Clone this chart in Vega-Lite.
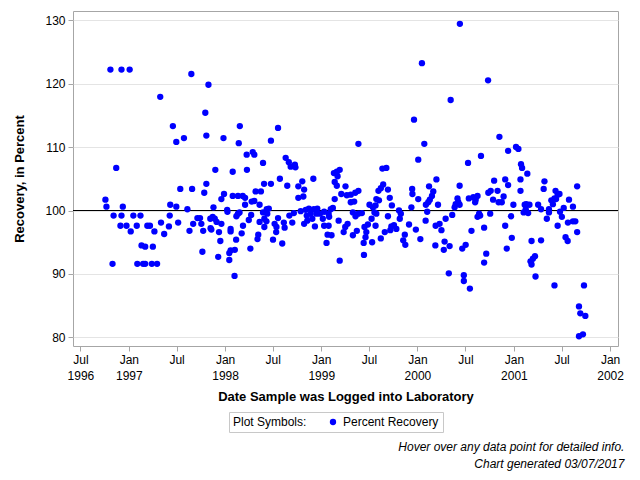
{
"$schema": "https://vega.github.io/schema/vega-lite/v6.json",
"width": 545, "height": 335,
"autosize": "none",
"padding": {"left": 73, "top": 11, "right": 22, "bottom": 134},
"background": "white",
"title": {"text": "Hover over any data point for detailed info.", "subtitle": "Chart generated 03/07/2017", "orient": "bottom", "anchor": "end", "font": "Liberation Sans", "fontSize": 12, "fontStyle": "italic", "fontWeight": "normal", "color": "#000000", "subtitleFont": "Liberation Sans", "subtitleFontSize": 12, "subtitleFontStyle": "italic", "subtitleColor": "#000000", "subtitlePadding": 5, "offset": 9, "dx": 1},
"data": {"values": [
{"date":"1996-10-04","recovery":101.7},{"date":"1996-10-08","recovery":100.6},{"date":"1996-10-23","recovery":122.2},{"date":"1996-10-31","recovery":91.6},{"date":"1996-11-04","recovery":99.2},{"date":"1996-11-14","recovery":106.7},{"date":"1996-11-30","recovery":97.6},{"date":"1996-12-04","recovery":122.2},{"date":"1996-12-04","recovery":99.2},{"date":"1996-12-09","recovery":100.6},{"date":"1996-12-23","recovery":97.6},{"date":"1997-01-04","recovery":122.2},{"date":"1997-01-08","recovery":96.7},{"date":"1997-01-18","recovery":99.2},{"date":"1997-01-31","recovery":97.6},{"date":"1997-02-02","recovery":91.6},{"date":"1997-02-14","recovery":99.2},{"date":"1997-02-18","recovery":94.5},{"date":"1997-02-24","recovery":91.6},{"date":"1997-03-04","recovery":91.6},{"date":"1997-03-04","recovery":94.3},{"date":"1997-03-12","recovery":97.6},{"date":"1997-03-22","recovery":97.6},{"date":"1997-03-29","recovery":91.6},{"date":"1997-04-02","recovery":94.3},{"date":"1997-04-08","recovery":96.7},{"date":"1997-04-18","recovery":91.6},{"date":"1997-04-30","recovery":117.9},{"date":"1997-05-03","recovery":98.1},{"date":"1997-05-15","recovery":96.3},
{"date":"1997-06-17","recovery":113.3},{"date":"1997-06-30","recovery":110.8},{"date":"1997-07-29","recovery":111.4},{"date":"1997-08-26","recovery":121.5},{"date":"1997-10-22","recovery":111.8},{"date":"1997-10-18","recovery":115.4},{"date":"1997-10-30","recovery":119.8},{"date":"1997-12-26","recovery":111.4},{"date":"1998-02-26","recovery":113.3},{"date":"1998-02-22","recovery":110.6},{"date":"1998-03-24","recovery":108.8},{"date":"1998-04-16","recovery":109.2},{"date":"1998-04-22","recovery":108.8},{"date":"1998-05-25","recovery":107.5},{"date":"1997-11-25","recovery":106.4},{"date":"1998-01-30","recovery":106.1},{"date":"1998-03-25","recovery":106.4},{"date":"1997-07-15","recovery":103.4},{"date":"1997-08-29","recovery":103.4},{"date":"1997-10-14","recovery":102.8},{"date":"1997-10-22","recovery":104.2},{"date":"1998-05-29","recovery":104.2},{"date":"1997-06-07","recovery":100.9},{"date":"1997-06-30","recovery":100.6},{"date":"1997-06-05","recovery":99.2},{"date":"1997-06-02","recovery":97.5},{"date":"1997-07-07","recovery":98.1},{"date":"1997-08-11","recovery":100.2},{"date":"1997-08-19","recovery":96.8},{"date":"1997-09-02","recovery":97.9},{"date":"1997-09-18","recovery":98.8},{"date":"1997-09-28","recovery":98.8},{"date":"1997-10-03","recovery":97.9},{"date":"1997-10-10","recovery":96.8},{"date":"1997-10-07","recovery":93.5},{"date":"1997-11-06","recovery":98.7},{"date":"1997-11-15","recovery":99.0},{"date":"1997-11-23","recovery":98.7},{"date":"1997-11-07","recovery":97.2},{"date":"1997-11-10","recovery":97.0},{"date":"1997-11-18","recovery":100.5},{"date":"1997-11-30","recovery":98.2},{"date":"1997-12-09","recovery":96.6},{"date":"1997-12-14","recovery":95.2},{"date":"1997-12-18","recovery":97.9},{"date":"1997-12-06","recovery":92.7},{"date":"1997-12-18","recovery":101.8},{"date":"1997-12-28","recovery":102.6},{"date":"1998-01-09","recovery":100.1},{"date":"1998-01-10","recovery":99.8},{"date":"1998-01-22","recovery":97.1},{"date":"1998-01-22","recovery":96.7},{"date":"1998-01-17","recovery":93.3},{"date":"1998-01-22","recovery":93.7},{"date":"1998-02-07","recovery":93.8},{"date":"1998-01-17","recovery":92.2},{"date":"1998-02-06","recovery":89.7},{"date":"1998-01-30","recovery":102.3},{"date":"1998-02-19","recovery":102.3},{"date":"1998-02-13","recovery":99.1},{"date":"1998-02-19","recovery":99.5},{"date":"1998-02-25","recovery":99.7},{"date":"1998-02-12","recovery":95.4},{"date":"1998-03-05","recovery":96.4},{"date":"1998-03-10","recovery":97.6},{"date":"1998-03-09","recovery":102.3},{"date":"1998-03-18","recovery":102.0},{"date":"1998-03-18","recovery":100.9},{"date":"1998-04-07","recovery":94.0},{"date":"1998-04-01","recovery":98.5},{"date":"1998-04-10","recovery":99.3},{"date":"1998-04-12","recovery":101.4},{"date":"1998-04-22","recovery":101.5},{"date":"1998-04-27","recovery":103.0},{"date":"1998-05-17","recovery":103.0},{"date":"1998-05-12","recovery":100.9},{"date":"1998-05-07","recovery":96.2},{"date":"1998-05-04","recovery":95.5},{"date":"1998-05-12","recovery":98.2},{"date":"1998-05-25","recovery":99.7},{"date":"1998-05-30","recovery":98.7},{"date":"1998-05-30","recovery":97.4},{"date":"1998-06-08","recovery":100.2},
{"date":"1998-07-21","recovery":113.0},{"date":"1998-06-24","recovery":111.0},{"date":"1998-08-19","recovery":108.3},{"date":"1998-08-31","recovery":107.6},{"date":"1998-09-07","recovery":106.9},{"date":"1998-09-23","recovery":107.2},{"date":"1998-09-25","recovery":106.8},{"date":"1998-07-28","recovery":105.0},{"date":"1998-06-24","recovery":104.2},{"date":"1998-08-25","recovery":103.9},{"date":"1998-10-06","recovery":103.8},{"date":"1998-10-21","recovery":104.6},{"date":"1998-10-28","recovery":103.3},{"date":"1998-10-06","recovery":102.0},{"date":"1998-10-25","recovery":102.2},{"date":"1998-12-02","recovery":105.0},{"date":"1999-02-18","recovery":105.9},{"date":"1999-03-01","recovery":106.1},{"date":"1999-03-12","recovery":106.4},{"date":"1999-03-04","recovery":105.4},{"date":"1999-02-21","recovery":104.5},{"date":"1999-03-01","recovery":103.9},{"date":"1999-02-21","recovery":101.8},{"date":"1999-03-18","recovery":102.6},{"date":"1999-04-03","recovery":103.8},{"date":"1999-04-08","recovery":102.4},{"date":"1999-04-23","recovery":102.5},{"date":"1999-05-10","recovery":102.8},{"date":"1999-05-22","recovery":103.1},{"date":"1999-04-23","recovery":101.3},{"date":"1999-05-06","recovery":101.4},{"date":"1999-05-22","recovery":110.5},{"date":"1998-06-16","recovery":100.3},{"date":"1998-06-10","recovery":99.5},{"date":"1998-06-07","recovery":98.3},{"date":"1998-07-21","recovery":98.8},{"date":"1998-07-08","recovery":97.9},{"date":"1998-07-15","recovery":97.4},{"date":"1998-07-14","recovery":96.6},{"date":"1998-08-12","recovery":98.1},{"date":"1998-08-15","recovery":97.3},{"date":"1998-09-02","recovery":99.2},{"date":"1998-09-13","recovery":98.1},{"date":"1998-09-19","recovery":99.6},{"date":"1998-07-02","recovery":95.4},{"date":"1998-08-06","recovery":94.8},{"date":"1998-10-15","recovery":99.9},{"date":"1998-11-03","recovery":100.1},{"date":"1998-11-15","recovery":100.3},{"date":"1998-11-22","recovery":99.5},{"date":"1998-12-04","recovery":100.2},{"date":"1998-12-17","recovery":100.3},{"date":"1998-11-07","recovery":99.2},{"date":"1998-10-28","recovery":97.9},{"date":"1998-11-09","recovery":98.4},{"date":"1998-11-28","recovery":98.7},{"date":"1998-12-08","recovery":97.5},{"date":"1998-12-14","recovery":99.5},{"date":"1998-12-27","recovery":99.5},{"date":"1999-01-07","recovery":98.7},{"date":"1999-01-12","recovery":99.8},{"date":"1999-01-29","recovery":99.5},{"date":"1999-02-06","recovery":100.2},{"date":"1999-02-14","recovery":100.4},{"date":"1999-01-31","recovery":99.0},{"date":"1999-01-12","recovery":97.6},{"date":"1999-01-29","recovery":97.6},{"date":"1999-01-25","recovery":96.2},{"date":"1999-02-09","recovery":96.1},{"date":"1999-01-21","recovery":94.9},{"date":"1999-03-12","recovery":92.1},{"date":"1999-03-08","recovery":98.4},{"date":"1999-04-02","recovery":97.4},{"date":"1999-03-27","recovery":96.6},{"date":"1999-04-11","recovery":97.9},{"date":"1999-05-01","recovery":96.1},{"date":"1999-05-16","recovery":96.8},{"date":"1999-05-01","recovery":99.7},{"date":"1999-05-11","recovery":99.1},{"date":"1999-05-22","recovery":99.5},
{"date":"2000-01-18","recovery":123.2},{"date":"2000-05-06","recovery":117.4},{"date":"1999-12-19","recovery":114.3},{"date":"2000-01-27","recovery":110.5},{"date":"2000-01-04","recovery":108.0},{"date":"1999-08-21","recovery":106.6},{"date":"1999-09-05","recovery":106.7},{"date":"1999-08-24","recovery":104.1},{"date":"1999-08-15","recovery":103.5},{"date":"1999-08-06","recovery":103.1},{"date":"1999-07-29","recovery":101.8},{"date":"1999-08-08","recovery":101.6},{"date":"1999-09-11","recovery":103.3},{"date":"1999-09-18","recovery":102.0},{"date":"1999-07-03","recovery":100.9},{"date":"1999-07-16","recovery":100.5},{"date":"1999-07-26","recovery":100.8},{"date":"1999-07-22","recovery":99.7},{"date":"1999-07-29","recovery":99.5},{"date":"1999-06-04","recovery":99.6},{"date":"1999-07-11","recovery":98.7},{"date":"1999-07-26","recovery":97.6},{"date":"1999-06-14","recovery":97.4},{"date":"1999-06-27","recovery":97.8},{"date":"1999-06-21","recovery":96.6},{"date":"1999-06-18","recovery":95.8},{"date":"1999-06-11","recovery":94.9},{"date":"1999-06-12","recovery":93.0},{"date":"1999-07-13","recovery":95.0},{"date":"1999-09-26","recovery":100.8},{"date":"1999-09-11","recovery":99.1},{"date":"1999-10-23","recovery":100.0},{"date":"1999-10-30","recovery":99.5},{"date":"1999-10-26","recovery":98.7},{"date":"1999-09-24","recovery":97.5},{"date":"1999-10-04","recovery":97.7},{"date":"1999-10-13","recovery":97.1},{"date":"1999-09-20","recovery":96.9},{"date":"1999-08-30","recovery":96.6},{"date":"1999-08-15","recovery":95.6},{"date":"1999-11-14","recovery":96.2},{"date":"1999-11-08","recovery":95.3},{"date":"1999-11-16","recovery":94.6},{"date":"1999-11-30","recovery":97.8},{"date":"1999-12-09","recovery":100.5},{"date":"1999-12-12","recovery":103.4},{"date":"1999-12-13","recovery":102.6},{"date":"2000-01-04","recovery":101.8},{"date":"1999-12-26","recovery":97.0},{"date":"2000-01-12","recovery":95.5},{"date":"2000-02-02","recovery":100.9},{"date":"2000-02-11","recovery":101.3},{"date":"2000-02-17","recovery":101.7},{"date":"2000-03-01","recovery":103.0},{"date":"2000-02-25","recovery":102.3},{"date":"2000-02-14","recovery":103.8},{"date":"2000-03-13","recovery":104.9},{"date":"2000-03-19","recovery":100.9},{"date":"2000-02-07","recovery":99.8},{"date":"2000-02-01","recovery":98.4},{"date":"2000-03-10","recovery":97.6},{"date":"2000-03-25","recovery":97.9},{"date":"2000-04-01","recovery":96.9},{"date":"2000-03-09","recovery":94.5},{"date":"2000-04-13","recovery":95.1},{"date":"2000-04-10","recovery":93.8},{"date":"2000-05-02","recovery":94.4},{"date":"2000-04-29","recovery":90.1},{"date":"2000-04-17","recovery":98.7},{"date":"2000-05-12","recovery":99.3},{"date":"2000-05-21","recovery":100.5},{"date":"2000-05-25","recovery":101.0},
{"date":"2000-06-10","recovery":129.4},{"date":"2000-09-25","recovery":120.5},{"date":"2000-11-07","recovery":111.6},{"date":"2000-12-10","recovery":109.4},{"date":"2001-01-09","recovery":110.0},{"date":"2001-01-18","recovery":109.7},{"date":"2000-08-29","recovery":108.6},{"date":"2000-07-11","recovery":107.5},{"date":"2001-01-28","recovery":107.3},{"date":"2001-02-01","recovery":106.7},{"date":"2001-02-21","recovery":105.8},{"date":"2000-06-09","recovery":103.9},{"date":"2000-10-18","recovery":104.7},{"date":"2000-11-29","recovery":104.9},{"date":"2000-12-10","recovery":104.0},{"date":"2001-01-26","recovery":104.9},{"date":"2000-09-26","recovery":102.8},{"date":"2000-10-05","recovery":103.1},{"date":"2000-10-31","recovery":103.1},{"date":"2000-10-14","recovery":101.7},{"date":"2000-11-04","recovery":101.3},{"date":"2000-11-16","recovery":101.3},{"date":"2000-11-23","recovery":102.2},{"date":"2001-01-26","recovery":103.1},{"date":"2000-06-01","recovery":101.9},{"date":"2000-06-04","recovery":101.3},{"date":"2000-06-09","recovery":100.9},{"date":"2000-07-14","recovery":101.9},{"date":"2000-07-31","recovery":102.1},{"date":"2000-08-09","recovery":101.7},{"date":"2000-08-16","recovery":102.3},{"date":"2000-08-07","recovery":101.3},{"date":"2001-04-03","recovery":100.9},{"date":"2001-02-17","recovery":101.0},{"date":"2001-03-01","recovery":100.9},{"date":"2001-02-11","recovery":100.9},{"date":"2000-12-30","recovery":100.9},{"date":"2001-02-15","recovery":100.2},{"date":"2001-02-07","recovery":99.7},{"date":"2001-02-24","recovery":99.6},{"date":"2000-12-21","recovery":99.1},{"date":"2000-08-22","recovery":99.5},{"date":"2000-08-26","recovery":99.2},{"date":"2000-08-16","recovery":99.0},{"date":"2000-10-03","recovery":99.5},{"date":"2000-09-10","recovery":97.3},{"date":"2000-11-29","recovery":97.6},{"date":"2000-12-24","recovery":95.7},{"date":"2000-07-24","recovery":96.8},{"date":"2000-07-02","recovery":94.6},{"date":"2000-06-19","recovery":94.0},{"date":"2000-12-05","recovery":94.0},{"date":"2001-03-09","recovery":95.2},{"date":"2000-09-18","recovery":93.2},{"date":"2000-09-10","recovery":91.8},{"date":"2001-03-22","recovery":92.8},{"date":"2001-03-14","recovery":92.4},{"date":"2001-03-05","recovery":92.0},{"date":"2001-03-09","recovery":91.5},{"date":"2000-06-25","recovery":89.8},{"date":"2000-06-25","recovery":88.9},{"date":"2000-07-18","recovery":87.7},{"date":"2001-03-24","recovery":89.6},
{"date":"2001-04-27","recovery":104.6},{"date":"2001-04-24","recovery":103.4},{"date":"2001-04-14","recovery":100.2},{"date":"2001-04-14","recovery":95.3},{"date":"2001-05-06","recovery":98.7},{"date":"2001-05-14","recovery":100.2},{"date":"2001-05-14","recovery":99.7},{"date":"2001-05-23","recovery":101.6},{"date":"2001-05-29","recovery":101.0},{"date":"2001-06-08","recovery":103.1},{"date":"2001-06-04","recovery":101.9},{"date":"2001-06-10","recovery":101.8},{"date":"2001-06-16","recovery":102.5},{"date":"2001-06-23","recovery":102.6},{"date":"2001-06-25","recovery":99.8},{"date":"2001-07-02","recovery":99.0},{"date":"2001-07-09","recovery":100.4},{"date":"2001-06-16","recovery":97.6},{"date":"2001-07-29","recovery":101.7},{"date":"2001-08-13","recovery":100.6},{"date":"2001-08-29","recovery":103.8},{"date":"2001-07-25","recovery":98.1},{"date":"2001-08-13","recovery":98.3},{"date":"2001-08-22","recovery":98.3},{"date":"2001-08-29","recovery":96.6},{"date":"2001-07-16","recovery":95.8},{"date":"2001-07-24","recovery":95.2},{"date":"2001-06-04","recovery":88.2},{"date":"2001-09-24","recovery":88.2},{"date":"2001-09-05","recovery":84.9},{"date":"2001-09-10","recovery":83.8},{"date":"2001-09-29","recovery":83.4},{"date":"2001-09-05","recovery":80.2},{"date":"2001-09-20","recovery":80.5}
]},
"layer": [
{"mark": {"type": "rule", "color": "#000000", "strokeWidth": 1},
 "encoding": {"y": {"datum": 100, "type": "quantitative"}}},
{"mark": {"type": "circle", "size": 40, "opacity": 1},
 "encoding": {
  "x": {"field": "date", "type": "temporal",
        "scale": {"type": "utc", "nice": false, "domain": [{"year": 1996, "month": 6, "date": 3, "utc": true}, {"year": 2002, "month": 1, "date": 31, "utc": true}]},
        "axis": {"title": "Date Sample was Logged into Laboratory",
                 "values": [{"year":1996,"month":7,"date":1,"utc":true},{"year":1997,"month":1,"date":1,"utc":true},{"year":1997,"month":7,"date":1,"utc":true},{"year":1998,"month":1,"date":1,"utc":true},{"year":1998,"month":7,"date":1,"utc":true},{"year":1999,"month":1,"date":1,"utc":true},{"year":1999,"month":7,"date":1,"utc":true},{"year":2000,"month":1,"date":1,"utc":true},{"year":2000,"month":7,"date":1,"utc":true},{"year":2001,"month":1,"date":1,"utc":true},{"year":2001,"month":7,"date":1,"utc":true},{"year":2002,"month":1,"date":1,"utc":true}],
                 "labelExpr": "utcmonth(datum.value) == 0 ? ['Jan', utcFormat(datum.value, '%Y')] : (utcyear(datum.value) == 1996 ? ['Jul', '1996'] : 'Jul')",
                 "labelLineHeight": 16, "grid": false, "titlePadding": 9}},
  "y": {"field": "recovery", "type": "quantitative",
        "scale": {"domain": [78.66, 131.42], "nice": false, "zero": false},
        "axis": {"title": "Recovery, in Percent", "values": [80, 90, 100, 110, 120, 130], "grid": true, "titlePadding": 18}},
  "color": {"datum": "Percent Recovery", "type": "nominal",
            "scale": {"range": ["#0000ff"]},
            "legend": {"title": "Plot Symbols:", "orient": "none", "legendX": 156, "legendY": 401, "titleOrient": "left", "titleFontWeight": "normal", "titleFontSize": 12, "titleFont": "Liberation Sans", "titleColor": "#000000", "titlePadding": 20, "labelFont": "Liberation Sans", "labelFontSize": 12, "labelColor": "#000000", "symbolType": "circle", "symbolSize": 40, "strokeColor": "#c8c8c8", "padding": 4, "fillColor": "white"}}
 }}
],
"config": {
 "view": {"stroke": "#a6a6a6", "strokeWidth": 1},
 "axis": {"labelFont": "Liberation Sans", "labelFontSize": 12, "labelColor": "#000000", "titleFont": "Liberation Sans", "titleFontSize": 13, "titleFontWeight": "bold", "titleColor": "#000000", "tickColor": "#a6a6a6", "tickSize": 5, "domain": false, "gridColor": "#e4e4e4", "labelPadding": 3}
}
}
